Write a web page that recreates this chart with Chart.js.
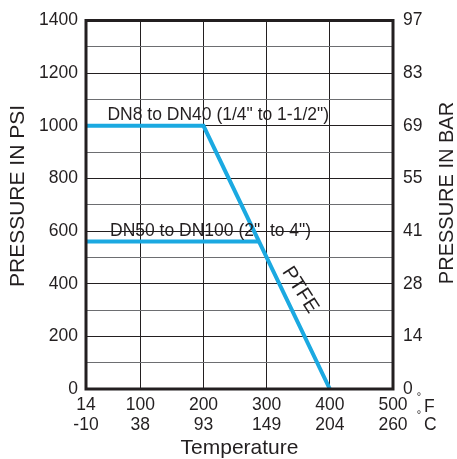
<!DOCTYPE html>
<html>
<head>
<meta charset="utf-8">
<script src="https://cdn.jsdelivr.net/npm/chart.js@4.4.1/dist/chart.umd.min.js"></script>
<style>
  html, body { margin: 0; padding: 0; background: #fff; }
  #wrap { width: 457px; height: 459px; }
</style>
</head>
<body>
<div id="wrap"><canvas id="chart"></canvas></div>
<script>
// Temperature ticks (F on top, C underneath)
const tempF = [14, 100, 200, 300, 400, 500];
const tempC = ['-10', '38', '93', '149', '204', '260'];

// Pressure ticks, psi on the left, bar on the right
const psiTicks = [0, 200, 400, 600, 800, 1000, 1200, 1400];
const barTicks = ['0', '14', '28', '41', '55', '69', '83', '97'];

// Rating lines
const smallF = [14, 200, 400];
const smallPsi = [1000, 1000, 0];
const largeF = [14, 287];
const largePsi = [560, 560];

const BLUE = '#1ba9e1';
const INK = '#231f20';
const FONT = 'Liberation Sans, Arial, sans-serif';

function toPoints(xs, ys) {
    return xs.map((x, i) => ({ x: x, y: ys[i] }));
}

// Extra text and frame drawn on top of the chart
const decorations = {
    id: 'decorations',
    afterDraw(chart) {
        const ctx = chart.ctx;
        const x = chart.scales.x;
        const y = chart.scales.y;
        const a = chart.chartArea;
        ctx.save();

        // heavy frame
        ctx.strokeStyle = INK;
        ctx.lineWidth = 3;
        ctx.strokeRect(a.left, a.top, a.right - a.left, a.bottom - a.top);

        ctx.fillStyle = INK;
        ctx.font = '17.5px ' + FONT;
        ctx.textAlign = 'left';
        ctx.textBaseline = 'alphabetic';
        ctx.fillText('DN8 to DN40 (1/4" to 1-1/2")', x.getPixelForValue(48), y.getPixelForValue(1000) - 6);
        ctx.fillText('DN50 to DN100 (2"  to 4")', x.getPixelForValue(52), y.getPixelForValue(560) - 6);

        // axis titles
        ctx.font = '21px ' + FONT;
        ctx.textAlign = 'center';
        ctx.textBaseline = 'middle';
        ctx.fillText('Temperature', (a.left + a.right) / 2, 448);
        ctx.save();
        ctx.translate(18, 196);
        ctx.rotate(-Math.PI / 2);
        ctx.fillText('PRESSURE IN PSI', 0, 0);
        ctx.restore();
        ctx.save();
        ctx.font = '20px ' + FONT;
        ctx.translate(447, 193);
        ctx.rotate(-Math.PI / 2);
        ctx.fillText('PRESSURE IN BAR', 0, 0);
        ctx.restore();

        // unit marks at the end of the temperature axis
        ctx.font = '17.5px ' + FONT;
        ctx.textAlign = 'left';
        ctx.fillText('F', a.right + 31, a.bottom + 18);
        ctx.fillText('C', a.right + 31, a.bottom + 36);
        ctx.font = '11px ' + FONT;
        ctx.textAlign = 'center';
        ctx.fillText('°', a.right + 26, a.bottom + 8);
        ctx.fillText('°', a.right + 26, a.bottom + 26);

        // PTFE along the slope
        const x1 = x.getPixelForValue(200), y1 = y.getPixelForValue(1000);
        const x2 = x.getPixelForValue(400), y2 = y.getPixelForValue(0);
        const ang = Math.atan2(y2 - y1, x2 - x1);
        ctx.translate(x.getPixelForValue(353), y.getPixelForValue(376));
        ctx.rotate(ang - 0.12);
        ctx.font = '20px ' + FONT;
        ctx.fillText('PTFE', 0, 0);
        ctx.restore();
    }
};

new Chart(document.getElementById('chart').getContext('2d'), {
    type: 'scatter',
    data: {
        datasets: [{
            label: 'DN8 to DN40',
            data: toPoints(smallF, smallPsi),
            showLine: true,
            borderColor: BLUE,
            borderWidth: 4,
            pointRadius: 0,
            tension: 0
        }, {
            label: 'DN50 to DN100',
            data: toPoints(largeF, largePsi),
            showLine: true,
            borderColor: BLUE,
            borderWidth: 4,
            pointRadius: 0,
            tension: 0
        }]
    },
    options: {
        responsive: true,
        maintainAspectRatio: false,
        animation: false,
        layout: { padding: { top: 20, left: 0, right: 0, bottom: 0 } },
        plugins: {
            legend: { display: false },
            tooltip: { enabled: false }
        },
        scales: {
            x: {
                type: 'linear',
                min: 14,
                max: 500,
                afterBuildTicks: s => { s.ticks = tempF.map(v => ({ value: v })); },
                afterFit: s => { s.height = 70; },
                ticks: {
                    color: INK,
                    font: { family: FONT, size: 17.5, lineHeight: 1.1 },
                    padding: 7,
                    maxRotation: 0,
                    autoSkip: false,
                    callback: (v) => {
                        const i = tempF.indexOf(v);
                        return [String(v), tempC[i]];
                    }
                },
                grid: { color: INK, lineWidth: 1, drawTicks: false },
                border: { display: false }
            },
            y: {
                type: 'linear',
                position: 'left',
                min: 0,
                max: 1400,
                afterBuildTicks: s => {
                    const t = [];
                    for (let v = 0; v <= 1400; v += 100) t.push({ value: v });
                    s.ticks = t;
                },
                afterFit: s => { s.width = 86; },
                ticks: {
                    color: INK,
                    font: { family: FONT, size: 17.5 },
                    padding: 8,
                    autoSkip: false,
                    callback: v => (psiTicks.includes(v) ? String(v) : '')
                },
                grid: {
                    color: c => (c.tick && c.tick.value % 200 === 0 ? INK : '#6d6e71'),
                    lineWidth: 1,
                    drawTicks: false
                },
                border: { display: false }
            },
            y2: {
                type: 'linear',
                position: 'right',
                min: 0,
                max: 1400,
                afterBuildTicks: s => { s.ticks = psiTicks.map(v => ({ value: v })); },
                afterFit: s => { s.width = 64; },
                ticks: {
                    color: INK,
                    font: { family: FONT, size: 17.5 },
                    padding: 10,
                    autoSkip: false,
                    callback: v => barTicks[psiTicks.indexOf(v)]
                },
                grid: { display: false, drawTicks: false },
                border: { display: false }
            }
        }
    },
    plugins: [decorations]
});
</script>
</body>
</html>
